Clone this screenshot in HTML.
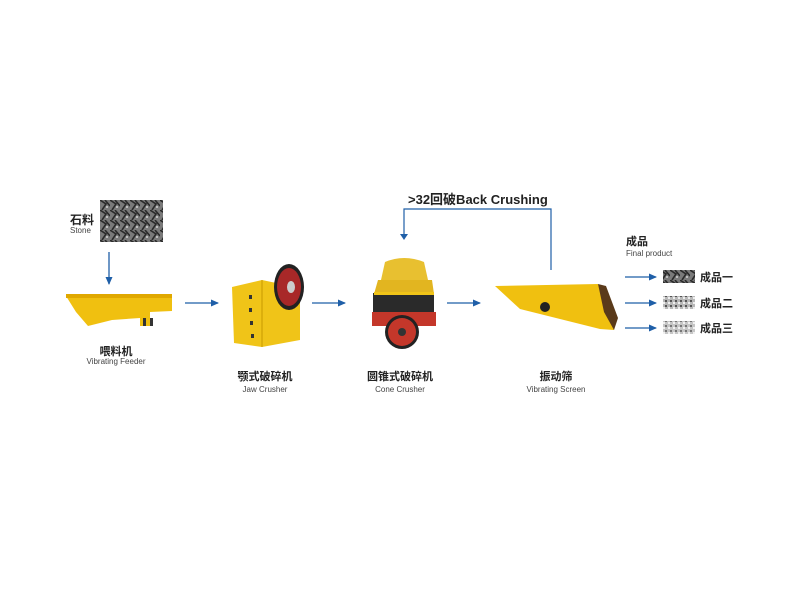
<!DOCTYPE html>
<html><head><meta charset="utf-8"><style>
html,body{margin:0;padding:0;background:#fff;width:800px;height:600px;overflow:hidden}
svg{display:block}
text{font-family:"Liberation Sans","Noto Sans CJK SC",sans-serif}
</style></head><body>
<svg width="800" height="600" viewBox="0 0 800 600" xmlns="http://www.w3.org/2000/svg">
<defs>
<marker id="ah" markerWidth="8" markerHeight="8" refX="7" refY="4" orient="auto" markerUnits="userSpaceOnUse">
<path d="M0,0.5 L8,4 L0,7.5 Z" fill="#1f5fa8"/></marker>
<pattern id="rock" width="10" height="10" patternUnits="userSpaceOnUse">
<rect width="10" height="10" fill="#7a7a7a"/><path d="M0,0 L6,4 L2,10 M5,0 L10,6" stroke="#2a2a2a" stroke-width="1.6" fill="none"/><rect x="6" y="6" width="2" height="2" fill="#bbb"/></pattern>
<pattern id="gr" width="5" height="5" patternUnits="userSpaceOnUse">
<rect width="5" height="5" fill="#b8b8b8"/><rect x="0" y="0" width="2" height="2" fill="#555"/><rect x="3" y="2" width="2" height="2" fill="#eee"/></pattern>
</defs>
<!-- stone -->
<rect x="100" y="200" width="63" height="42" fill="url(#rock)"/>
<text x="70" y="224" font-size="12" font-weight="bold" fill="#222">石料</text>
<text x="70" y="233" font-size="8" fill="#444">Stone</text>
<line x1="109" y1="252" x2="109" y2="284" stroke="#1f5fa8" stroke-width="1.3" marker-end="url(#ah)"/>
<!-- feeder -->
<path d="M66,296 L172,296 L172,311 L150,312 L150,326 L140,326 L140,318 L112,320 L88,326 L76,312 Z" fill="#f0c010"/>
<rect x="66" y="294" width="106" height="4" fill="#e0a800"/>
<rect x="143" y="318" width="3" height="8" fill="#333"/><rect x="150" y="318" width="3" height="8" fill="#333"/>
<text x="116" y="355" font-size="11" font-weight="bold" fill="#222" text-anchor="middle">喂料机</text>
<text x="116" y="364" font-size="8" fill="#444" text-anchor="middle">Vibrating Feeder</text>
<line x1="185" y1="303" x2="218" y2="303" stroke="#1f5fa8" stroke-width="1.3" marker-end="url(#ah)"/>
<!-- jaw -->
<path d="M232,287 L262,280 L300,288 L300,340 L262,347 L234,343 Z" fill="#f0c418"/>
<path d="M262,280 L262,347" stroke="#c99a00" stroke-width="1"/>
<rect x="249" y="295" width="3" height="4" fill="#333"/><rect x="249" y="308" width="3" height="4" fill="#333"/><rect x="250" y="321" width="3" height="4" fill="#333"/><rect x="251" y="334" width="3" height="4" fill="#333"/>
<ellipse cx="289" cy="287" rx="15" ry="23" fill="#222"/>
<ellipse cx="289" cy="287" rx="12" ry="19" fill="#a82828"/>
<ellipse cx="291" cy="287" rx="4" ry="6" fill="#ccc"/>
<text x="265" y="380" font-size="11" font-weight="bold" fill="#222" text-anchor="middle">颚式破碎机</text>
<text x="265" y="392" font-size="8" fill="#444" text-anchor="middle">Jaw Crusher</text>
<line x1="312" y1="303" x2="345" y2="303" stroke="#1f5fa8" stroke-width="1.3" marker-end="url(#ah)"/>
<!-- cone -->
<path d="M385,262 Q404,254 424,262 L428,280 L381,280 Z" fill="#e8c030"/>
<path d="M378,280 L432,280 L434,294 L374,294 Z" fill="#e2b520"/>
<rect x="373" y="293" width="61" height="20" fill="#2a2a2a"/>
<rect x="372" y="312" width="64" height="14" fill="#c4372a"/>
<rect x="374" y="292" width="60" height="3" fill="#f0c418"/>
<circle cx="402" cy="332" r="17" fill="#222"/><circle cx="402" cy="332" r="14" fill="#c4372a"/><circle cx="402" cy="332" r="4" fill="#333"/>
<text x="400" y="380" font-size="11" font-weight="bold" fill="#222" text-anchor="middle">圆锥式破碎机</text>
<text x="400" y="392" font-size="8" fill="#444" text-anchor="middle">Cone Crusher</text>
<line x1="447" y1="303" x2="480" y2="303" stroke="#1f5fa8" stroke-width="1.3" marker-end="url(#ah)"/>
<!-- back loop -->
<polyline points="551,270 551,209 404,209 404,236" fill="none" stroke="#1f5fa8" stroke-width="1.2"/>
<path d="M400,234 L404,240 L408,234 Z" fill="#1f5fa8"/>
<text x="408" y="204" font-size="13" font-weight="bold" fill="#222">&gt;32回破Back Crushing</text>
<!-- screen -->
<path d="M495,286 L598,284 L616,318 L614,330 L600,329 L520,309 Z" fill="#f0c010"/>
<path d="M598,284 L606,286 L618,318 L614,330 L604,312 Z" fill="#5a3a1a"/>
<circle cx="545" cy="307" r="5" fill="#222"/>
<text x="556" y="380" font-size="11" font-weight="bold" fill="#222" text-anchor="middle">振动筛</text>
<text x="556" y="392" font-size="8" fill="#444" text-anchor="middle">Vibrating Screen</text>
<!-- final -->
<text x="626" y="245" font-size="11" font-weight="bold" fill="#222">成品</text>
<text x="626" y="256" font-size="8" fill="#444">Final product</text>
<line x1="625" y1="277" x2="656" y2="277" stroke="#1f5fa8" stroke-width="1.3" marker-end="url(#ah)"/>
<line x1="625" y1="303" x2="656" y2="303" stroke="#1f5fa8" stroke-width="1.3" marker-end="url(#ah)"/>
<line x1="625" y1="328" x2="656" y2="328" stroke="#1f5fa8" stroke-width="1.3" marker-end="url(#ah)"/>
<rect x="663" y="270" width="32" height="13" fill="url(#rock)"/>
<rect x="663" y="296" width="32" height="13" fill="url(#gr)"/>
<rect x="663" y="321" width="32" height="13" fill="url(#gr)" opacity="0.8"/>
<text x="700" y="281" font-size="11" font-weight="bold" fill="#222">成品一</text>
<text x="700" y="307" font-size="11" font-weight="bold" fill="#222">成品二</text>
<text x="700" y="332" font-size="11" font-weight="bold" fill="#222">成品三</text>
</svg>
</body></html>
